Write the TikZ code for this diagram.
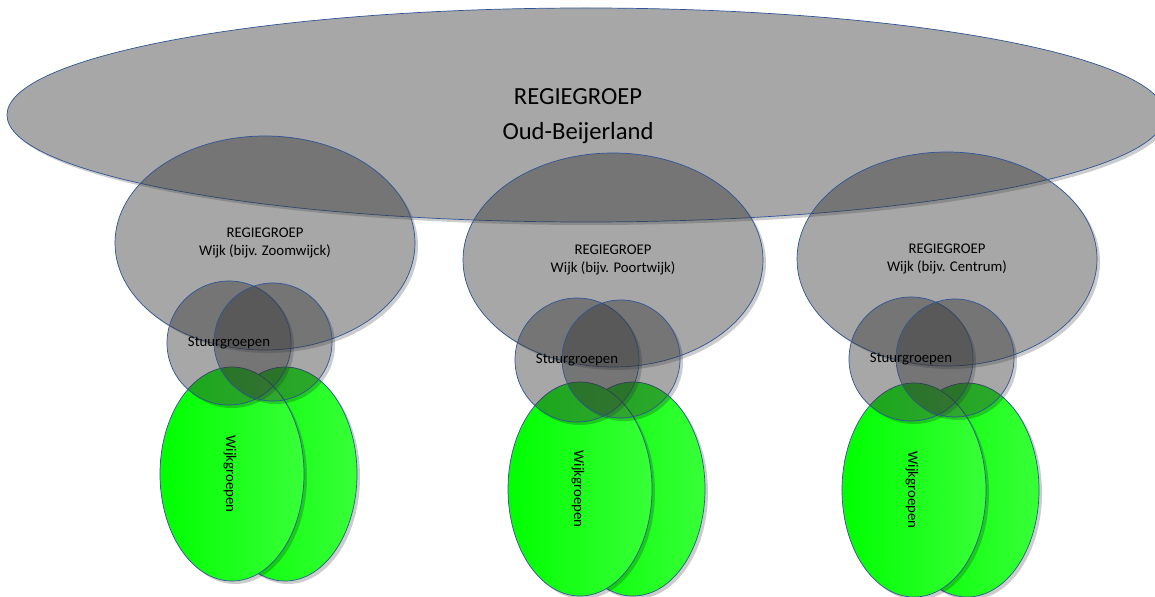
\documentclass[tikz,border=0pt]{standalone}
\usepackage{fontspec}
\setmainfont{Carlito}
\usetikzlibrary{shapes}
\definecolor{rimblue}{RGB}{47,85,151}
\definecolor{wijkgreen}{RGB}{0,255,0}
\definecolor{wijkgreenlight}{RGB}{56,255,56}
\tikzstyle{grayblob}=[draw=rimblue,line width=0.5pt,fill=black!80,fill opacity=0.43]
\tikzstyle{greenblob}=[draw=rimblue,line width=0.5pt,left color=wijkgreen,right color=wijkgreenlight]
\tikzstyle{blobshadow}=[fill=black,fill opacity=0.2]
\tikzstyle{bigtext}=[font=\fontsize{17.5}{25}\selectfont,align=center,inner sep=0pt]
\tikzstyle{smalltext}=[font=\fontsize{10.5}{12.5}\selectfont,align=center,inner sep=0pt]

% shape with a shadow that only shows outside it: style, x, y, rx, ry
\newcommand{\blob}[5]{%
  \begin{scope}
    \clip (-60,-60) rectangle (1220,660) (#2,#3) ellipse[x radius=#4,y radius=#5];
    \fill[blobshadow] (#2+3,#3+3) ellipse[x radius=#4,y radius=#5];
  \end{scope}
  \draw[#1] (#2,#3) ellipse[x radius=#4,y radius=#5];}

\begin{document}
\begin{tikzpicture}[x=0.025cm,y=-0.025cm]
\useasboundingbox (0,0) rectangle (1155,597);

% Wijkgroepen (back one first)
\foreach \g/\dx/\dy in {zoom/0/0, poort/348/15, centrum/682/16} {
    \blob{greenblob}{285+\dx}{474+\dy}{72}{107}
    \blob{greenblob}{232+\dx}{474+\dy}{72}{107}
    \node[smalltext,rotate=-90] (wijkgroepen-\g) at (230+\dx,474+\dy) {Wijkgroepen};
}

% Regiegroep Oud-Beijerland
\blob{grayblob}{586}{115}{579}{107}
\node[bigtext] (regie) at (578,116) {REGIEGROEP\\Oud-Beijerland};

% Regiegroep per wijk + stuurgroepen
\foreach \g/\dx/\dy/\wijk in {zoom/0/0/Zoomwijck, poort/348/17/Poortwijk, centrum/682/16/Centrum} {
    \blob{grayblob}{265+\dx}{243+\dy}{150}{107}
    \node[smalltext] (wijk-\g) at (265+\dx,243+\dy) {REGIEGROEP\\Wijk (bijv. \wijk)};
    \blob{grayblob}{229+\dx}{343+\dy}{62}{62}
    \blob{grayblob}{273+\dx}{342+\dy}{59}{59}
    \node[smalltext] (stuur-\g) at (229+\dx,343+\dy) {Stuurgroepen};
}

\end{tikzpicture}
\end{document}
